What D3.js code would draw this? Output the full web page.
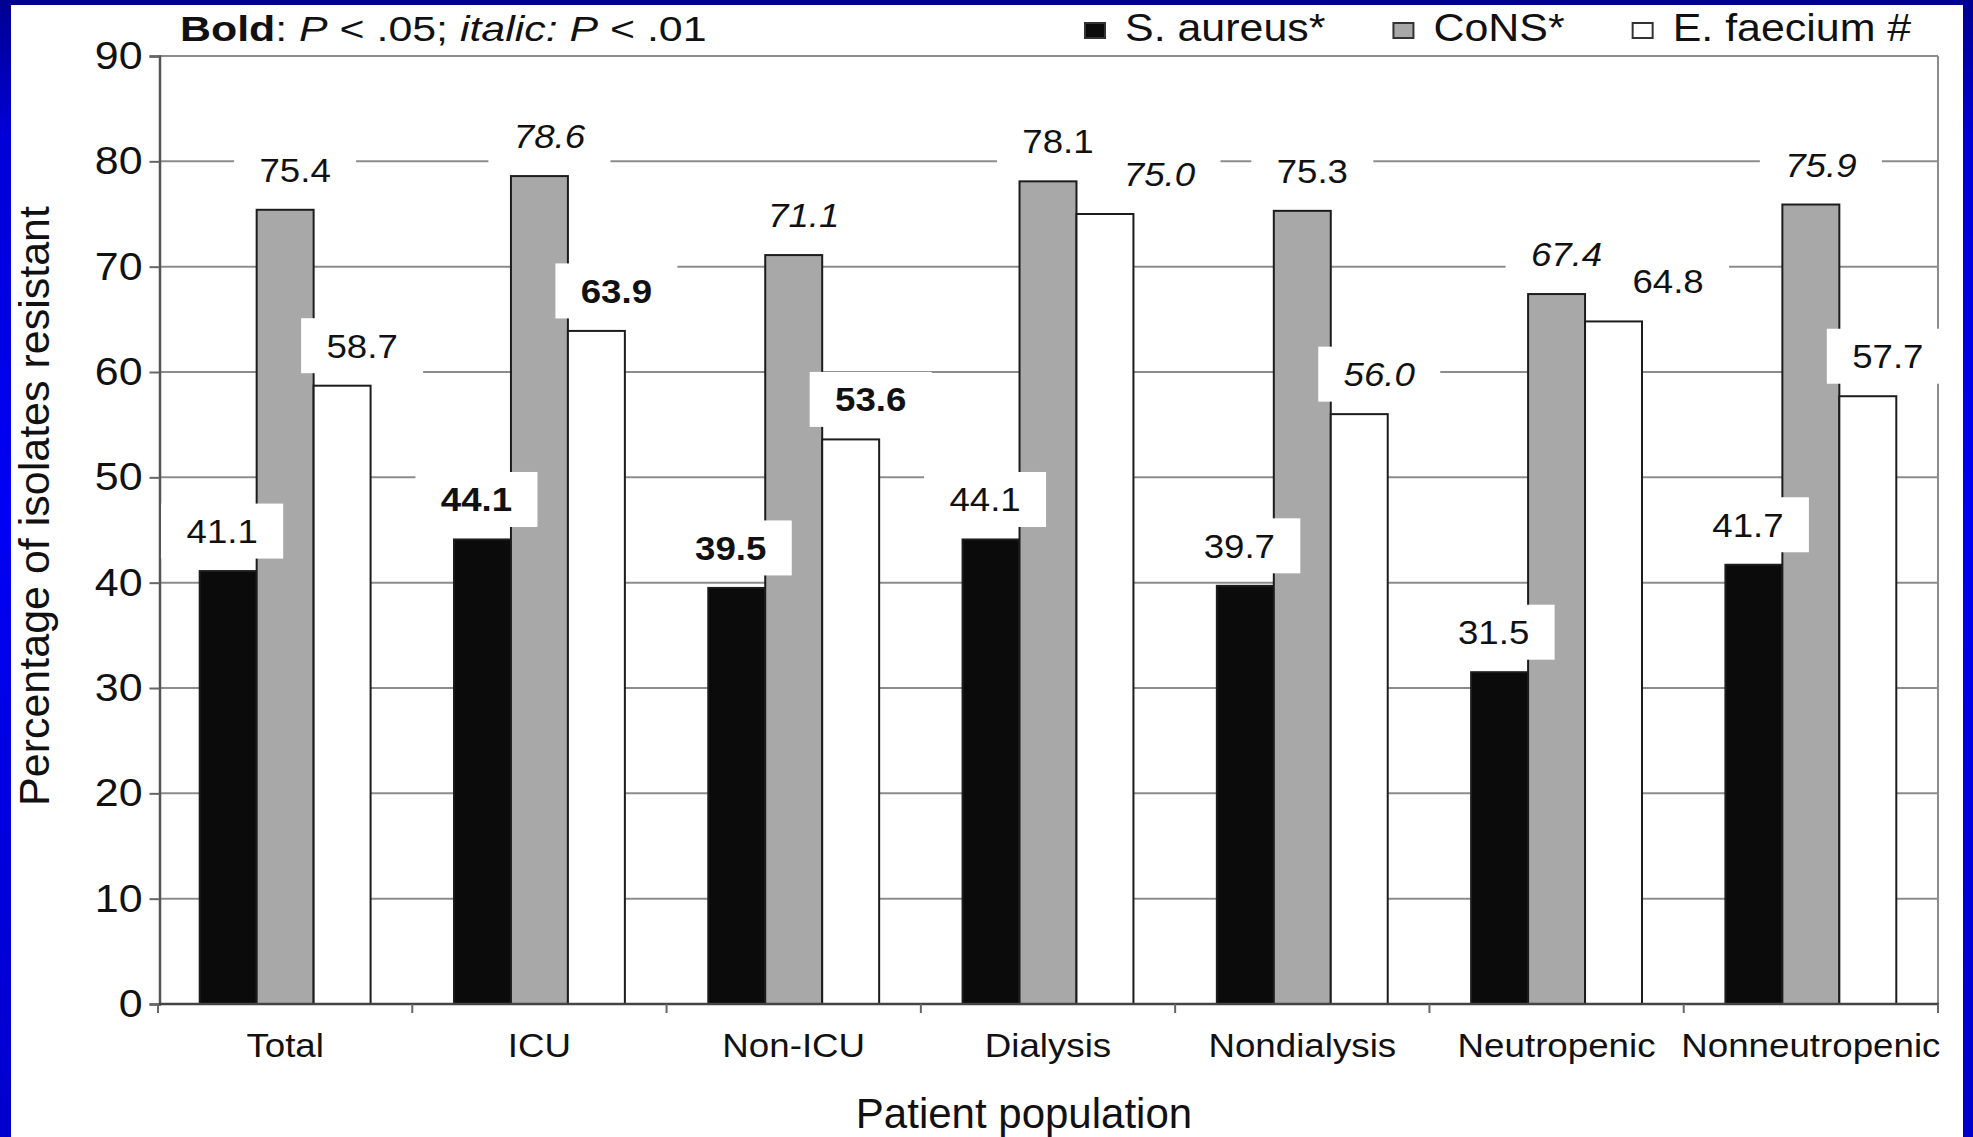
<!DOCTYPE html>
<html>
<head>
<meta charset="utf-8">
<script src="https://cdn.jsdelivr.net/npm/d3@7"></script>
<style>
  html, body { margin: 0; padding: 0; }
  body { width: 1973px; height: 1137px; overflow: hidden; }
  svg { display: block; }
  text { font-family: "Liberation Sans", Arial, Helvetica, sans-serif; fill: #111; }
</style>
</head>
<body>
<svg id="chart" width="1973" height="1137"></svg>
<script>
// ---------------- data ----------------
const categories = ["Total", "ICU", "Non-ICU", "Dialysis", "Nondialysis", "Neutropenic", "Nonneutropenic"];
const seriesNames = ["S. aureus*", "CoNS*", "E. faecium #"];
const sAureus  = [41.1, 44.1, 39.5, 44.1, 39.7, 31.5, 41.7];
const cons     = [75.4, 78.6, 71.1, 78.1, 75.3, 67.4, 75.9];
const eFaecium = [58.7, 63.9, 53.6, 75.0, 56.0, 64.8, 57.7];
// significance: "ns" none, "p05" P < .05 (bold), "p01" P < .01 (italic)
const sigSAureus  = ["ns", "p05", "p05", "ns", "ns", "ns", "ns"];
const sigCons     = ["ns", "p01", "p01", "ns", "ns", "p01", "p01"];
const sigEFaecium = ["ns", "p05", "p05", "p01", "p01", "ns", "ns"];
const yTicks = [0, 10, 20, 30, 40, 50, 60, 70, 80, 90];
const yTitle = "Percentage of isolates resistant";
const xTitle = "Patient population";

// ---------------- layout / style ----------------
const W = 1973, H = 1137;
const FONT = '"Liberation Sans", Arial, Helvetica, sans-serif';
const fills = ["#0b0b0b", "#a8a8a8", "#ffffff"];
const seriesValues = [sAureus, cons, eFaecium];
const seriesSig = [sigSAureus, sigCons, sigEFaecium];

const svg = d3.select("#chart");

// blue slide background
const defs = svg.append("defs");
const grad = defs.append("linearGradient").attr("id", "bg").attr("x1", 0).attr("y1", 0).attr("x2", 0).attr("y2", 1);
grad.append("stop").attr("offset", "0%").attr("stop-color", "#000090");
grad.append("stop").attr("offset", "12%").attr("stop-color", "#0000d8");
grad.append("stop").attr("offset", "45%").attr("stop-color", "#0000f4");
grad.append("stop").attr("offset", "100%").attr("stop-color", "#0000cc");
svg.append("rect").attr("width", W).attr("height", H).attr("fill", "url(#bg)");
svg.append("rect").attr("x", 11).attr("y", 5).attr("width", 1952).attr("height", H - 5).attr("fill", "#ffffff");

const plotL = 158, plotR = 1938;
const y = d3.scaleLinear().domain([0, 90]).range([1004, 56]);
const x0 = d3.scaleBand().domain(categories).range([plotL, plotR]).paddingInner(0.328).paddingOuter(0.164);
const x1 = d3.scaleBand().domain(seriesNames).range([0, x0.bandwidth()]);

function stretchText(g, x, yy, sx, str) {
  return g.append("text").attr("transform", `translate(${x},${yy}) scale(${sx},1)`).text(str);
}

// gridlines
const grid = svg.append("g");
grid.selectAll("line").data(yTicks.filter(d => d > 0)).join("line")
  .attr("x1", plotL + 1).attr("x2", plotR)
  .attr("y1", d => y(d)).attr("y2", d => y(d))
  .attr("stroke", "#8c8c8c").attr("stroke-width", 2);
// right frame
svg.append("line").attr("x1", plotR).attr("x2", plotR).attr("y1", y(90)).attr("y2", y(0))
  .attr("stroke", "#8c8c8c").attr("stroke-width", 2);

// bars
const barData = [];
categories.forEach((c, i) => {
  seriesNames.forEach((s, k) => {
    barData.push({ cat: c, ser: s, k, i, v: seriesValues[k][i], sig: seriesSig[k][i] });
  });
});
svg.append("g").selectAll("rect").data(barData).join("rect")
  .attr("x", d => x0(d.cat) + x1(d.ser))
  .attr("y", d => y(d.v))
  .attr("width", x1.bandwidth())
  .attr("height", d => y(0) - y(d.v))
  .attr("fill", d => fills[d.k])
  .attr("stroke", "#1c1c1c").attr("stroke-width", 2);

// axes
const tsx = 1.1;
const yAxis = d3.axisLeft(y).tickValues(yTicks).tickSize(10).tickPadding(7).tickFormat(d3.format("d"));
const yg = svg.append("g").attr("transform", "translate(159.5,0)").call(yAxis);
yg.select(".domain").attr("stroke", "#555").attr("stroke-width", 2.5);
yg.selectAll(".tick line").attr("stroke", "#666").attr("stroke-width", 2);
yg.selectAll(".tick text").attr("font-family", FONT).attr("font-size", 39).attr("fill", "#111")
  .attr("x", -17 / tsx).attr("transform", `scale(${tsx},1)`);

svg.append("line").attr("x1", 159).attr("x2", plotR + 1).attr("y1", y(0)).attr("y2", y(0))
  .attr("stroke", "#444").attr("stroke-width", 2.5);
const bounds = categories.map(c => x0(c) - x0.step() * x0.paddingOuter()).concat([plotR]);
svg.append("g").selectAll("line").data(bounds).join("line")
  .attr("x1", d => d).attr("x2", d => d).attr("y1", y(0)).attr("y2", y(0) + 9)
  .attr("stroke", "#666").attr("stroke-width", 2);

// category labels
const catG = svg.append("g").attr("font-size", 34).attr("text-anchor", "middle");
categories.forEach(c => {
  stretchText(catG, x0(c) + x0.bandwidth() / 2, 1057, 1.08, c);
});

// value labels with white boxes
const shift = [-6, 10, 20];
const boxW = 122, boxH = 55, lift = 40;
const labG = svg.append("g");
barData.forEach(d => {
  const bx = x0(d.cat) + x1(d.ser);
  let cx = bx + x1.bandwidth() / 2 + shift[d.k];
  const cy = y(d.v) - lift;
  if (d.k === 2) {
    const gx1 = x0(d.cat) + x1(seriesNames[1]) + x1.bandwidth();
    const gt = y(seriesValues[1][d.i]);
    if (gt > cy - boxH / 2 && gt < cy + boxH / 2 && cx - boxW / 2 < gx1) cx = gx1 + 22 + boxW / 2;
  }
  labG.append("rect").attr("x", cx - boxW / 2).attr("y", cy - boxH / 2)
    .attr("width", boxW).attr("height", boxH).attr("fill", "#fff");
  const t = stretchText(labG, cx, cy + 12, 1.11, d3.format(".1f")(d.v))
    .attr("font-size", 33).attr("text-anchor", "middle");
  if (d.sig === "p05") t.attr("font-weight", "bold");
  if (d.sig === "p01") t.attr("font-style", "italic");
});

// axis titles
svg.append("text").attr("transform", `translate(49,506) rotate(-90)`)
  .attr("text-anchor", "middle").attr("font-size", 43).text(yTitle);
svg.append("text").attr("x", 1024).attr("y", 1128)
  .attr("text-anchor", "middle").attr("font-size", 42).text(xTitle);

// significance note
const note = svg.append("text").attr("transform", "translate(180,41) scale(1.225,1)").attr("font-size", 35);
note.append("tspan").attr("font-weight", "bold").text("Bold");
note.append("tspan").text(": ");
note.append("tspan").attr("font-style", "italic").text("P");
note.append("tspan").text(" < .05; ");
note.append("tspan").attr("font-style", "italic").text("italic:");
note.append("tspan").text(" ");
note.append("tspan").attr("font-style", "italic").text("P");
note.append("tspan").text(" < .01");

// legend
const legG = svg.append("g").attr("font-size", 38);
let lx = 1085;
const lsx = 1.13;
seriesNames.forEach((s, k) => {
  legG.append("rect").attr("x", lx).attr("y", 23).attr("width", 20).attr("height", 15)
    .attr("fill", fills[k]).attr("stroke", "#333").attr("stroke-width", 2);
  const t = stretchText(legG, lx + 40, 41, lsx, s);
  const w = t.node().getComputedTextLength() * lsx;
  lx += 40 + w + 68;
});
</script>
</body>
</html>
